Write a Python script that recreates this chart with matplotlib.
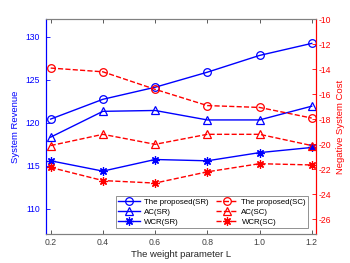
import numpy as np
import matplotlib.pyplot as plt

# weight parameter L
L = [0.2, 0.4, 0.6, 0.8, 1.0, 1.2]

# system revenue (left axis)
sr_proposed = [120.4, 122.7, 124.1, 125.85, 127.8, 129.2]
sr_ac = [118.3, 121.3, 121.4, 120.3, 120.3, 121.9]
sr_wcr = [115.55, 114.35, 115.7, 115.55, 116.5, 117.1]

# negative system cost (right axis)
sc_proposed = [-13.9, -14.2, -15.6, -16.9, -17.05, -17.9]
sc_ac = [-20.1, -19.2, -20.0, -19.2, -19.2, -20.1]
sc_wcr = [-21.85, -22.9, -23.1, -22.2, -21.55, -21.65]

plt.rcParams['font.family'] = ['Liberation Sans', 'DejaVu Sans']
plt.rcParams['axes.unicode_minus'] = False

fig = plt.figure(figsize=(3.5, 2.63), dpi=100)
ax = fig.add_axes([0.1306, 0.109, 0.7724, 0.8176])
ax2 = ax.twinx()

blue = (0, 0, 1)
red = (1, 0, 0)
ast = (8, 2, 0)
lw = 1.0

h1, = ax.plot(L, sr_proposed, '-', color=blue, lw=lw, marker='o', ms=5.5, mfc='none', mew=0.9, label='The proposed(SR)')
h2, = ax.plot(L, sr_ac, '-', color=blue, lw=lw, marker='^', ms=6, mfc='none', mew=0.9, label='AC(SR)')
h3, = ax.plot(L, sr_wcr, '-', color=blue, lw=lw, marker=ast, ms=6, mew=0.9, label='WCR(SR)')

h4, = ax2.plot(L, sc_proposed, '--', color=red, lw=lw, marker='o', ms=5.5, mfc='none', mew=0.9, label='The proposed(SC)')
h5, = ax2.plot(L, sc_ac, '--', color=red, lw=lw, marker='^', ms=6, mfc='none', mew=0.9, label='AC(SC)')
h6, = ax2.plot(L, sc_wcr, '--', color=red, lw=lw, marker=ast, ms=6, mew=0.9, label='WCR(SC)')

ax.set_xlim(0.181, 1.2165)
ax.set_xticks(L)
ax.set_xticklabels(['0.2', '0.4', '0.6', '0.8', '1.0', '1.2'])
ax.set_ylim(107, 132)
ax.set_yticks([110, 115, 120, 125, 130])
ax2.set_ylim(-27.2, -10)
ax2.set_yticks(np.arange(-26, -9, 2))

gray = '#404040'
for a in (ax, ax2):
    a.tick_params(direction='in', length=3, width=0.6, labelsize=6.2)
    for s in a.spines.values():
        s.set_linewidth(0.8)
        s.set_color('#808080')
ax.tick_params(axis='x', colors=gray, top=True, pad=3)
ax.tick_params(axis='y', colors=blue, pad=4)
ax2.tick_params(axis='y', colors=red, pad=2)
ax2.tick_params(axis='x', top=False, bottom=False)
ax2.spines['left'].set_color(blue)
ax2.spines['right'].set_color(red)
ax.spines['left'].set_color(blue)
ax.spines['right'].set_color(red)

ax.set_xlabel('The weight parameter L', fontsize=6.8, color='#262626', labelpad=2)
ax.set_ylabel('System Revenue', fontsize=6.8, color=blue, labelpad=4)
ax2.set_ylabel('Negative System Cost', fontsize=6.8, color=red, labelpad=3)

leg = ax2.legend([h1, h2, h3, h4, h5, h6],
                 [h.get_label() for h in (h1, h2, h3, h4, h5, h6)],
                 ncol=2, loc='lower right', bbox_to_anchor=(0.972, 0.029),
                 borderaxespad=0, fontsize=5.7, fancybox=False, framealpha=1,
                 edgecolor='#808080', handlelength=2.8, columnspacing=1.0,
                 handletextpad=0.4, labelspacing=0.3, borderpad=0.3)
leg.get_frame().set_linewidth(0.6)

fig.savefig('out.png', dpi=100)
